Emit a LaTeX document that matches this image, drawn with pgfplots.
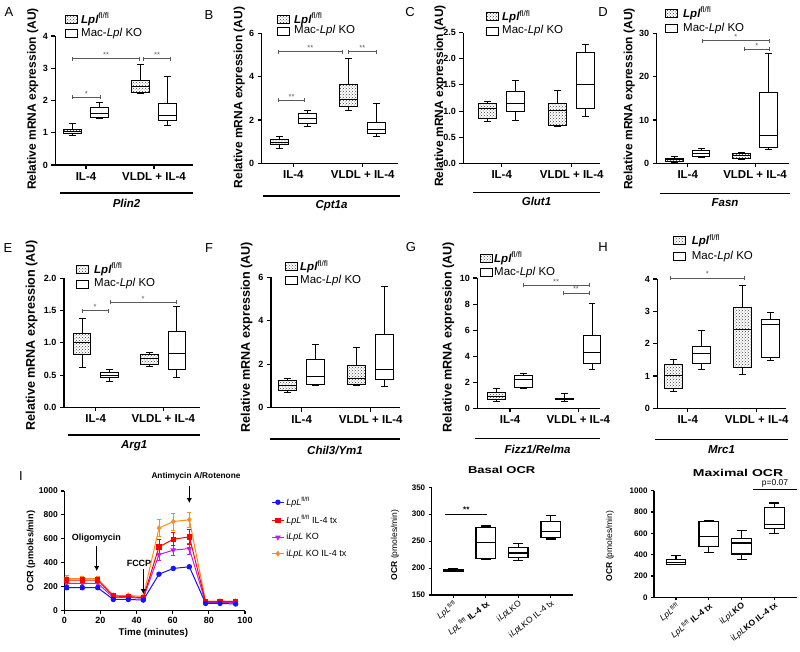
\documentclass[border=0pt]{standalone}
\usepackage{pgfplots}
\pgfplotsset{compat=1.18}
\usepgfplotslibrary{statistics}
\usetikzlibrary{patterns,arrows.meta}
\usepackage{fontspec}
\setmainfont{Liberation Sans}
\definecolor{blueC}{RGB}{20,20,255}
\definecolor{redC}{RGB}{255,0,0}
\definecolor{purpC}{RGB}{190,30,240}
\definecolor{orangeC}{RGB}{255,140,30}

\pgfplotsset{
  base/.style={scale only axis, anchor=south west, axis lines=left,
    axis line style={-, line width=1.1pt}, tick style={black, line width=1.1pt},
    tick align=outside, major tick length=4pt, clip=false,
    /pgf/number format/assume math mode=true, /pgf/number format/1000 sep={}},
  gene/.style={base, ymin=0, xtick={1,2}, xticklabels={IL-4, VLDL + IL-4},
    xticklabel style={font=\bfseries\fontsize{11.5}{12}\selectfont},
    yticklabel style={font=\bfseries\fontsize{9}{10}\selectfont}},
  dec/.style={yticklabel style={/pgf/number format/.cd,fixed,fixed zerofill,precision=1}},
  ocr/.style={base, major tick length=3pt, xtick={10,20,30,40},
    yticklabel style={font=\bfseries\fontsize{8}{9}\selectfont},
    xticklabel style={rotate=38, anchor=north east, inner sep=1pt, font=\fontsize{8.5}{9}\selectfont}},
}
\newcommand{\flb}[6]{\addplot[black, line width=1pt, boxplot prepared={draw direction=y, draw position=#1, lower whisker=#2, lower quartile=#3, median=#4, upper quartile=#5, upper whisker=#6, box extend=0.26, whisker extend=0.1, every box/.style={draw=black, line width=1pt, pattern=crosshatch dots, pattern color=black!75}}] coordinates {};}
\newcommand{\kob}[6]{\addplot[black, line width=1pt, boxplot prepared={draw direction=y, draw position=#1, lower whisker=#2, lower quartile=#3, median=#4, upper quartile=#5, upper whisker=#6, box extend=0.26, whisker extend=0.1, every box/.style={draw=black, fill=white, line width=1pt}}] coordinates {};}
\newcommand{\ocb}[6]{\addplot[black, line width=1.2pt, boxplot prepared={draw direction=y, draw position=#1, lower whisker=#2, lower quartile=#3, median=#4, upper quartile=#5, upper whisker=#6, box extend=6, whisker extend=3, every box/.style={draw=black, fill=white, line width=1.2pt}}] coordinates {};}
\newcommand{\sig}[4]{\draw[gray!70!black, line width=0.6pt, arrows={Bar[width=4pt]-Bar[width=4pt]}] (axis cs:#1,#3) -- node[above, inner sep=0.8pt, font=\fontsize{7.5}{7.5}\selectfont] {#4} (axis cs:#2,#3);}
\newcommand{\genleg}[4]{%
 \draw[line width=0.9pt, pattern=crosshatch dots, pattern color=black!75] (#1,#2-4) rectangle ++(12,8);
 \node[anchor=west, font=\fontsize{11.5}{12}\selectfont, inner sep=0pt] at (#4,#2) {\textbf{\textit{Lpl}}\textsuperscript{fl/fl}};
 \draw[line width=0.9pt, fill=white] (#1,#3-4) rectangle ++(12,8);
 \node[anchor=west, font=\fontsize{11.5}{12}\selectfont, inner sep=0pt] at (#4,#3) {Mac-\textit{Lpl} KO};}
\newcommand{\gname}[5]{\draw[line width=1.1pt] (#1,#3) -- (#2,#3); \node[font=\bfseries\itshape\fontsize{11.5}{12}\selectfont] at ({(#1+#2)/2},#4) {#5};}

\begin{document}
\begin{tikzpicture}[x=1pt,y=-1pt]
\useasboundingbox (0,0) rectangle (800,651);

% ---------- A ----------
\begin{axis}[gene, at={(55.4pt,-165pt)}, width=137.4pt, height=129pt, xmin=0.55, xmax=2.57, ymax=4, ytick={0,1,2,3,4}]
\flb{0.8}{0.9}{0.98}{1.04}{1.1}{1.28}
\kob{1.2}{1.45}{1.48}{1.6}{1.77}{1.93}
\flb{1.8}{2.22}{2.25}{2.42}{2.63}{3.12}
\kob{2.2}{1.24}{1.37}{1.55}{1.91}{2.73}
\sig{0.8}{1.79}{3.3}{**}
\sig{1.84}{2.25}{3.3}{**}
\sig{0.8}{1.21}{2.1}{*}
\end{axis}
% ---------- B ----------
\begin{axis}[gene, at={(261.7pt,-163.3pt)}, width=136.4pt, height=130pt, xmin=0.545, xmax=2.51, ymax=6, ytick={0,2,4,6}]
\flb{0.8}{0.69}{0.85}{0.95}{1.08}{1.26}
\kob{1.2}{1.69}{1.85}{2.08}{2.31}{2.42}
\flb{1.8}{2.43}{2.62}{2.95}{3.62}{4.82}
\kob{2.2}{1.26}{1.38}{1.54}{1.88}{2.77}
\sig{0.78}{1.71}{5.15}{**}
\sig{1.79}{2.2}{5.15}{**}
\sig{0.78}{1.17}{2.9}{**}
\end{axis}
% ---------- C ----------
\begin{axis}[gene, dec, at={(463.3pt,-163.3pt)}, width=136.4pt, height=130.6pt, xmin=0.451, xmax=2.40, ymax=2.5, ytick={0,0.5,1,1.5,2,2.5}]
\flb{0.8}{0.8}{0.86}{1.05}{1.15}{1.18}
\kob{1.2}{0.81}{1.0}{1.15}{1.37}{1.59}
\flb{1.8}{0.71}{0.72}{1.02}{1.15}{1.40}
\kob{2.2}{0.9}{1.05}{1.5}{2.12}{2.28}
\end{axis}
% ---------- D ----------
\begin{axis}[gene, at={(656.7pt,-163.3pt)}, width=132pt, height=130pt, xmin=0.539, xmax=2.5, ymax=30, ytick={0,10,20,30}]
\flb{0.8}{0.15}{0.4}{0.77}{1.15}{1.5}
\kob{1.2}{1.3}{1.5}{2.3}{2.85}{3.5}
\flb{1.8}{0.8}{1.15}{1.8}{2.15}{2.5}
\kob{2.2}{3.1}{3.7}{6.5}{16.4}{25.4}
\sig{1.21}{2.22}{28.3}{*}
\sig{1.83}{2.22}{26.3}{*}
\end{axis}
% ---------- E ----------
\begin{axis}[gene, dec, at={(64pt,-407.3pt)}, width=135.8pt, height=128.9pt, xmin=0.531, xmax=2.54, ymax=2, ytick={0,0.5,1,1.5,2}]
\flb{0.8}{0.62}{0.82}{1.0}{1.15}{1.38}
\kob{1.2}{0.4}{0.46}{0.5}{0.54}{0.59}
\flb{1.8}{0.64}{0.67}{0.75}{0.82}{0.85}
\kob{2.2}{0.47}{0.58}{0.835}{1.17}{1.56}
\sig{0.79}{1.19}{1.5}{*}
\sig{1.21}{2.19}{1.63}{*}
\end{axis}
% ---------- F ----------
\begin{axis}[gene, at={(271pt,-407.7pt)}, width=129.4pt, height=130.5pt, xmin=0.555, xmax=2.43, ymax=6, ytick={0,2,4,6}]
\flb{0.8}{0.7}{0.77}{1.0}{1.23}{1.32}
\kob{1.2}{1.0}{1.07}{1.43}{2.22}{2.91}
\flb{1.8}{1.03}{1.09}{1.35}{1.92}{2.76}
\kob{2.2}{0.97}{1.3}{1.76}{3.37}{5.56}
\end{axis}
% ---------- G ----------
\begin{axis}[gene, at={(477.3pt,-408.3pt)}, width=122.9pt, height=130.3pt, xmin=0.521, xmax=2.32, ymax=10, ytick={0,2,4,6,8,10}]
\flb{0.8}{0.51}{0.64}{0.9}{1.2}{1.49}
\kob{1.2}{1.54}{1.62}{2.18}{2.49}{2.64}
\flb{1.8}{0.56}{0.64}{0.72}{0.77}{1.15}
\kob{2.2}{3.0}{3.46}{4.31}{5.56}{8.08}
\sig{1.19}{2.16}{9.44}{**}
\sig{1.77}{2.16}{8.85}{**}
\end{axis}
% ---------- H ----------
\begin{axis}[gene, at={(657.3pt,-408.3pt)}, width=129.1pt, height=129.3pt, xmin=0.559, xmax=2.43, ymax=4, ytick={0,1,2,3,4}]
\flb{0.8}{0.53}{0.62}{1.0}{1.36}{1.52}
\kob{1.2}{1.21}{1.38}{1.71}{1.92}{2.41}
\flb{1.8}{1.06}{1.26}{2.43}{3.13}{3.79}
\kob{2.2}{1.49}{1.57}{2.59}{2.75}{2.95}
\sig{0.75}{1.82}{4.03}{*}
\end{axis}

% ---------- I : OCR time course ----------
\begin{axis}[base, major tick length=3pt, at={(64.3pt,-610.7pt)}, width=180.7pt, height=119.7pt,
  xmin=0, xmax=100, ymin=0, ymax=1000, xtick={0,20,40,60,80,100}, ytick={0,200,400,600,800,1000},
  xticklabel style={font=\bfseries\fontsize{9}{10}\selectfont},
  yticklabel style={font=\bfseries\fontsize{8.5}{9}\selectfont},
  reverse legend, legend cell align=left,
  legend style={at={(1.145,0.965)}, anchor=north west, draw=none, fill=none, inner sep=0pt,
    font=\fontsize{9}{10}\selectfont, row sep=4.3pt},
  legend image code/.code={\draw[mark repeat=2,mark phase=2] plot coordinates {(0pt,0pt) (6pt,0pt) (12pt,0pt)};},
  error bars/error bar style={line width=0.8pt},
  error bars/error mark options={rotate=90, mark size=2pt, line width=0.8pt}]
\addplot[color=orangeC, line width=1pt, mark=diamond*, mark size=2.2pt, error bars/.cd, y dir=both, y explicit]
 coordinates {(1.3,269) +- (0,22) (10,269) +- (0,20) (18.5,269) +- (0,20) (27.1,128) +- (0,12) (35.4,128) +- (0,12) (43.7,119) +- (0,12) (52.4,690) +- (0,70) (60.3,745) +- (0,70) (69.2,760) +- (0,65) (78.2,81) +- (0,10) (86.2,81) +- (0,10) (94.8,81) +- (0,10)};
\addlegendentry{i\textit{LpL} KO IL-4 tx}
\addplot[color=purpC, line width=1pt, mark=triangle*, mark size=2.3pt, mark options={rotate=180}, error bars/.cd, y dir=both, y explicit]
 coordinates {(1.3,228) +- (0,15) (10,228) +- (0,15) (18.5,228) +- (0,15) (27.1,111) +- (0,10) (35.4,111) +- (0,10) (43.7,103) +- (0,10) (52.4,469) +- (0,45) (60.3,506) +- (0,40) (69.2,519) +- (0,45) (78.2,67) +- (0,8) (86.2,67) +- (0,8) (94.8,67) +- (0,8)};
\addlegendentry{i\textit{LpL} KO}
\addplot[color=redC, line width=1pt, mark=square*, mark size=2.2pt, error bars/.cd, y dir=both, y explicit]
 coordinates {(1.3,255) +- (0,20) (10,255) +- (0,20) (18.5,255) +- (0,20) (27.1,122) +- (0,12) (35.4,119) +- (0,12) (43.7,108) +- (0,12) (52.4,533) +- (0,60) (60.3,597) +- (0,55) (69.2,617) +- (0,65) (78.2,75) +- (0,10) (86.2,75) +- (0,10) (94.8,75) +- (0,10)};
\addlegendentry{\textit{LpL}\textsuperscript{fl/fl} IL-4 tx}
\addplot[color=blueC, line width=1pt, mark=*, mark size=2.2pt, error bars/.cd, y dir=both, y explicit]
 coordinates {(1.3,192) +- (0,10) (10,192) +- (0,10) (18.5,192) +- (0,10) (27.1,94) +- (0,8) (35.4,94) +- (0,8) (43.7,89) +- (0,8) (52.4,305) +- (0,12) (60.3,353) +- (0,12) (69.2,367) +- (0,12) (78.2,61) +- (0,6) (86.2,61) +- (0,6) (94.8,56) +- (0,6)};
\addlegendentry{\textit{LpL}\textsuperscript{fl/fl}}
\end{axis}

% ---------- Basal OCR ----------
\begin{axis}[ocr, at={(431.7pt,-595pt)}, width=141.5pt, height=107.7pt, xmin=3.35, xmax=46.9, ymin=150, ymax=350, ytick={150,200,250,300,350},
  xticklabels={{\textit{LpL}\textsuperscript{fl/fl}}, {\textit{LpL}\textsuperscript{fl/fl} \textbf{IL-4 tx}}, {i\textit{LpL}KO}, {i\textit{LpL}KO IL-4 tx}}]
\ocb{10}{193}{194}{196}{198}{199}
\ocb{20}{216}{218}{248}{275}{278}
\ocb{30}{214}{219}{228}{238.5}{246}
\ocb{40}{254}{257}{268}{287}{297}
\draw[line width=1pt] (axis cs:7.5,300) -- node[above, inner sep=1.5pt, font=\bfseries\fontsize{8}{8}\selectfont]{**} (axis cs:20.5,300);
\end{axis}

% ---------- Maximal OCR ----------
\begin{axis}[ocr, at={(654pt,-597.3pt)}, width=142.7pt, height=106.6pt, xmin=3.3, xmax=46.8, ymin=0, ymax=1000, ytick={0,200,400,600,800,1000},
  xticklabels={{\textit{LpL}\textsuperscript{fl/fl}}, {\textit{LpL}\textsuperscript{fl/fl} \textbf{IL-4 tx}}, {i\textit{LpL}\textbf{KO}}, {i\textit{LpL}\textbf{KO IL-4 tx}}}]
\ocb{10}{305}{308}{330}{355}{392}
\ocb{20}{422}{478}{570}{709}{722}
\ocb{30}{355}{407}{509}{552}{623}
\ocb{40}{598}{648}{685}{845}{885}
\draw[line width=0.7pt] (axis cs:33.5,1016) -- node[above, inner sep=1.5pt, font=\fontsize{8.5}{9}\selectfont]{p=0.07} (axis cs:46.9,1016);
\end{axis}

% ---------- annotations ----------
\tikzset{plet/.style={font=\fontsize{13}{13}\selectfont},
  ylab/.style={rotate=90, font=\bfseries\fontsize{12}{12}\selectfont},
  ylab2/.style={rotate=90, font=\bfseries\fontsize{12.6}{12}\selectfont}}
\node[plet] at (9,12) {A}; \node[plet] at (209,15) {B}; \node[plet] at (410,12) {C}; \node[plet] at (603,12) {D};
\node[plet] at (8,248) {E}; \node[plet] at (209,248) {F}; \node[plet] at (411,247) {G}; \node[plet] at (603,247) {H};
\node[plet] at (21,476) {I};

\node[ylab] at (32.7,99) {Relative mRNA expression (AU)};
\node[ylab] at (239.3,97.5) {Relative mRNA expression (AU)};
\node[ylab] at (440,96) {Relative mRNA expression (AU)};
\node[ylab] at (629.3,99) {Relative mRNA expression (AU)};
\node[ylab2] at (31.7,335) {Relative mRNA expression (AU)};
\node[ylab2] at (246.7,337) {Relative mRNA expression (AU)};
\node[ylab2] at (448.3,337) {Relative mRNA expression (AU)};

\genleg{65}{19.3}{33.3}{81}
\genleg{277}{19.3}{31}{294}
\genleg{486}{16.7}{31}{502}
\genleg{665}{13.3}{28.3}{683}
\genleg{76}{269.3}{284}{94}
\genleg{285}{266.7}{280.7}{300}
\genleg{480}{258.3}{272.7}{494}
\genleg{673}{240.7}{256.7}{691.7}

\gname{60}{193}{193}{203.3}{Plin2}
\gname{263}{400}{196}{205.7}{Cpt1a}
\gname{473}{600}{192.7}{201.7}{Glut1}
\gname{660}{790}{193.3}{202.3}{Fasn}
\gname{68.3}{200}{435}{445.7}{Arg1}
\gname{270}{400}{439}{450}{Chil3/Ym1}
\gname{475}{600}{438.3}{449.3}{Fizz1/Relma}
\gname{655}{788}{439.3}{449.3}{Mrc1}

% I annotations
\tikzset{arr/.style={line width=1.4pt, -{Latex[length=5pt,width=5.5pt]}}}
\draw[arr] (96.7,546) -- (96.7,571);
\node[font=\bfseries\fontsize{9}{10}\selectfont] at (96.3,538.3) {Oligomycin};
\draw[arr] (143.3,569) -- (143.3,594);
\node[font=\bfseries\fontsize{9}{10}\selectfont] at (139,563.3) {FCCP};
\draw[arr] (189.3,486) -- (189.3,503);
\node[font=\bfseries\fontsize{8.3}{10}\selectfont] at (196,476.7) {Antimycin A/Rotenone};
\node[font=\bfseries\fontsize{9.8}{10}\selectfont] at (153.3,633.3) {Time (minutes)};
\node[rotate=90, font=\bfseries\fontsize{9.2}{10}\selectfont] at (31,551) {OCR (pmoles/min)};

\node[font=\bfseries\fontsize{10}{10}\selectfont] at (501.7,470) {\scalebox{1.3}[1]{Basal OCR}};
\node[font=\bfseries\fontsize{10}{10}\selectfont] at (738,472.7) {\scalebox{1.4}[1]{Maximal OCR}};
\node[rotate=90, font=\fontsize{8.5}{10}\selectfont] at (395,545) {\textbf{OCR} (pmoles/min)};
\node[rotate=90, font=\fontsize{8.5}{10}\selectfont] at (610,546) {\textbf{OCR} (pmoles/min)};
\end{tikzpicture}
\end{document}
